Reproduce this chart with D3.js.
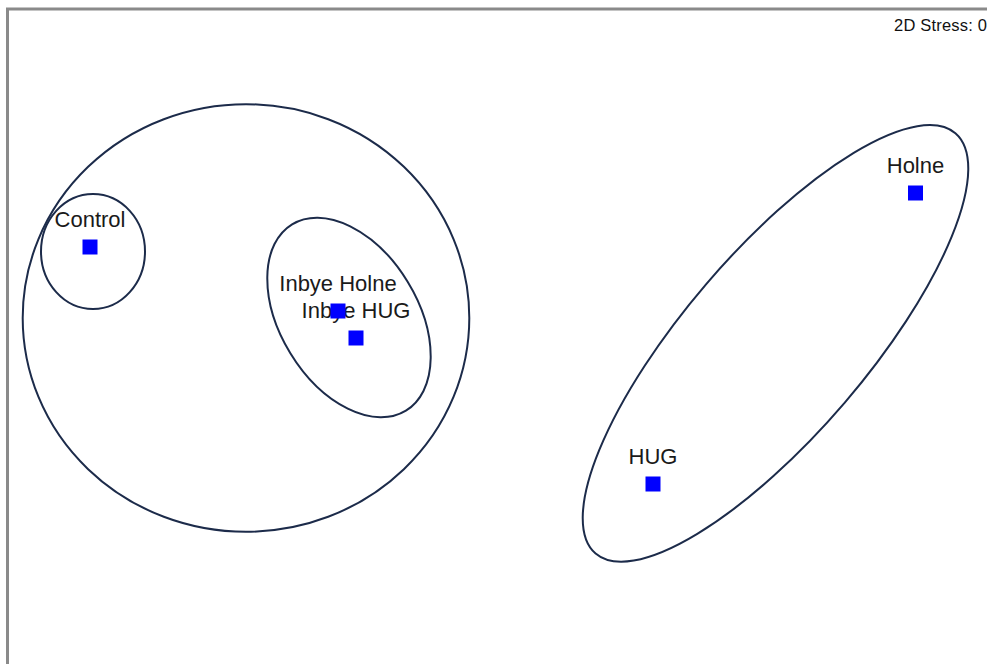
<!DOCTYPE html>
<html>
<head>
<meta charset="utf-8">
<script src="https://cdn.jsdelivr.net/npm/d3@7"></script>
<style>
  html, body { margin: 0; padding: 0; background: #fff; overflow: hidden; }
  svg { display: block; }
</style>
</head>
<body>
<svg id="chart" width="987" height="664"></svg>
<script>
// NMDS ordination of site groups (axis units)
const sites   = ["Control", "Inbye Holne", "Inbye HUG", "HUG", "Holne"];
const mds1    = [-2.015, -0.775, -0.685, 0.800, 2.1125];
const mds2    = [ 0.415,  0.095, -0.040, -0.770, 0.685];

// Similarity contours: centre, semi-axes (axis units), orientation (deg, counter-clockwise)
const contourCx    = [-1.235, -2.000, -0.720, 1.4125];
const contourCy    = [ 0.060,  0.3925, 0.0625, -0.06675];
const contourRx    = [ 1.1165, 0.260,  0.546,  1.383];
const contourRy    = [ 1.069,  0.2875, 0.3435, 0.456];
const contourAngle = [ 0,      0,     -58.6,   49.43];

const stressLabel = "2D Stress: 0";

const svg = d3.select("#chart");

// equal-aspect scales so ordination distances are preserved
const x = d3.scaleLinear().domain([-2.465, 2.47]).range([0, 987]);
const y = d3.scaleLinear().domain([1.65, -1.67]).range([0, 664]);
const unit = x(1) - x(0);

// plot frame
svg.append("rect")
  .attr("x", 7.5).attr("y", 9)
  .attr("width", 1200).attr("height", 1000)
  .attr("fill", "none")
  .attr("stroke", "#8a8a8a")
  .attr("stroke-width", 3);

// stress annotation
svg.append("text")
  .attr("x", 894).attr("y", 30.5)
  .attr("font-family", "Liberation Sans, Arial, sans-serif")
  .attr("font-size", 16.5)
  .attr("letter-spacing", 0.2)
  .attr("fill", "#111")
  .text(stressLabel);

// contours
const contours = contourCx.map((cx, i) => ({
  cx, cy: contourCy[i], rx: contourRx[i], ry: contourRy[i], angle: contourAngle[i]
}));

svg.append("g").selectAll("ellipse")
  .data(contours)
  .join("ellipse")
  .attr("transform", d => `translate(${x(d.cx)},${y(d.cy)}) rotate(${-d.angle})`)
  .attr("rx", d => d.rx * unit)
  .attr("ry", d => d.ry * unit)
  .attr("fill", "none")
  .attr("stroke", "#1c2b4a")
  .attr("stroke-width", 2);

const pts = sites.map((s, i) => ({ name: s, u: mds1[i], v: mds2[i] }));

// site labels (drawn under markers)
svg.append("g").selectAll("text")
  .data(pts)
  .join("text")
  .attr("x", d => x(d.u))
  .attr("y", d => y(d.v) - 20)
  .attr("text-anchor", "middle")
  .attr("font-family", "Liberation Sans, Arial, sans-serif")
  .attr("font-size", 22)
  .attr("fill", "#1a1a1a")
  .text(d => d.name);

// site markers
const sz = 15;
svg.append("g").selectAll("rect")
  .data(pts)
  .join("rect")
  .attr("x", d => x(d.u) - sz / 2)
  .attr("y", d => y(d.v) - sz / 2)
  .attr("width", sz).attr("height", sz)
  .attr("fill", "#0000ff");
</script>
</body>
</html>
